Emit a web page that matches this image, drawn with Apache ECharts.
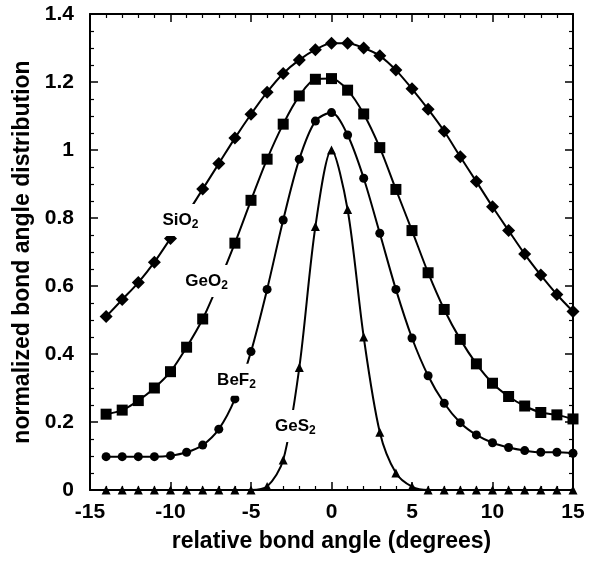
<!DOCTYPE html>
<html>
<head>
<meta charset="utf-8">
<script src="https://cdn.jsdelivr.net/npm/echarts@6/dist/echarts.min.js"></script>
<style>
html,body{margin:0;padding:0;background:#fff;}
#chart{width:594px;height:563px;}
</style>
</head>
<body>
<div id="chart"></div>
<script>
// relative bond angle (degrees)
var angles = [-14,-13,-12,-11,-10,-9,-8,-7,-6,-5,-4,-3,-2,-1,0,1,2,3,4,5,6,7,8,9,10,11,12,13,14,15];
var sio2 = [0.51,0.56,0.61,0.67,0.74,0.81,0.885,0.96,1.035,1.105,1.17,1.225,1.265,1.295,1.314,1.314,1.30,1.277,1.235,1.18,1.12,1.055,0.98,0.907,0.833,0.763,0.694,0.632,0.575,0.525];
var geo2 = [0.223,0.235,0.263,0.30,0.348,0.42,0.503,0.61,0.726,0.852,0.973,1.076,1.159,1.208,1.21,1.176,1.106,1.007,0.884,0.763,0.639,0.531,0.443,0.371,0.314,0.275,0.247,0.228,0.221,0.209];
var bef2 = [0.098,0.098,0.098,0.098,0.101,0.111,0.132,0.179,0.268,0.407,0.59,0.794,0.973,1.085,1.11,1.044,0.917,0.755,0.59,0.447,0.336,0.255,0.198,0.162,0.139,0.125,0.116,0.111,0.111,0.108];
var ges2 = [0,0,0,0,0,0,0,0,0,0,0.01,0.088,0.36,0.775,1.0,0.825,0.45,0.17,0.05,0.01,0,0,0,0,0,0,0,0,0,0];
var seriesNames = ['SiO', 'GeO', 'BeF', 'GeS'];
// label anchor points (data units)
var labelX = [-9.38, -7.76, -5.9, -2.24];
var labelY = [0.794, 0.615, 0.324, 0.188];

var FONT = '"Liberation Sans", Arial, sans-serif';
function pairs(vals){ return angles.map(function(a,i){ return [a, vals[i]]; }); }

var chart = echarts.init(document.getElementById('chart'), null, {renderer:'canvas'});

function mkX(pos, showLabel){
  return {
    type:'value', position:pos, min:-15, max:15, interval:5,
    axisLine:{show:true, onZero:false, lineStyle:{color:'#000', width:2}},
    axisTick:{show:true, inside:true, length:8, lineStyle:{color:'#000', width:1.5}},
    minorTick:{show:true, splitNumber:5, length:4, lineStyle:{color:'#000', width:1.2}},
    splitLine:{show:false}, minorSplitLine:{show:false},
    axisLabel:{show:showLabel, color:'#000', fontFamily:FONT, fontWeight:'bold', fontSize:21, margin:12},
    name: showLabel ? 'relative bond angle (degrees)' : '',
    nameLocation:'middle', nameGap:40,
    nameTextStyle:{color:'#000', fontFamily:FONT, fontWeight:'bold', fontSize:23}
  };
}
function mkY(pos, showLabel){
  return {
    type:'value', position:pos, min:0, max:1.4, interval:0.2,
    axisLine:{show:true, onZero:false, lineStyle:{color:'#000', width:2}},
    axisTick:{show:true, inside:true, length:8, lineStyle:{color:'#000', width:1.5}},
    minorTick:{show:true, splitNumber:4, length:4, lineStyle:{color:'#000', width:1.2}},
    splitLine:{show:false}, minorSplitLine:{show:false},
    axisLabel:{show:showLabel, color:'#000', fontFamily:FONT, fontWeight:'bold', fontSize:21, margin:16},
    name: showLabel ? 'normalized bond angle distribution' : '',
    nameLocation:'middle', nameGap:52,
    nameTextStyle:{color:'#000', fontFamily:FONT, fontWeight:'bold', fontSize:23}
  };
}
function mkSeries(name, vals, symbol, size){
  return {
    name:name, type:'line', data:pairs(vals), xAxisIndex:0, yAxisIndex:0,
    smooth:0.3, symbol:symbol, symbolSize:size, showAllSymbol:true, clip:false,
    lineStyle:{color:'#000', width:2}, itemStyle:{color:'#000', borderWidth:0},
    emphasis:{disabled:true}, animation:false, z:2
  };
}

chart.setOption({
  animation:false,
  backgroundColor:'#fff',
  grid:{left:90, right:21, top:14, bottom:73, containLabel:false, outerBoundsMode:'none'},
  xAxis:[mkX('bottom', true), mkX('top', false)],
  yAxis:[mkY('left', true), mkY('right', false)],
  series:[
    mkSeries('SiO2', sio2, 'diamond', 13),
    mkSeries('GeO2', geo2, 'rect', 11),
    mkSeries('BeF2', bef2, 'circle', 9),
    mkSeries('GeS2', ges2, 'triangle', 9)
  ]
});

var graphics = seriesNames.map(function(n,i){
  var p = chart.convertToPixel({xAxisIndex:0, yAxisIndex:0}, [labelX[i], labelY[i]]);
  return {
    type:'text', x:p[0], y:p[1], z:100,
    style:{
      text:'{a|'+n+'}{b|2}',
      align:'center', verticalAlign:'middle',
      backgroundColor:'#fff', padding:[5,5,5,5],
      rich:{
        a:{fontFamily:FONT, fontWeight:'bold', fontSize:17, lineHeight:22, fill:'#000', color:'#000'},
        b:{fontFamily:FONT, fontWeight:'bold', fontSize:12, lineHeight:12, verticalAlign:'bottom', fill:'#000', color:'#000'}
      }
    }
  };
});
chart.setOption({graphic:graphics});
</script>
</body>
</html>
